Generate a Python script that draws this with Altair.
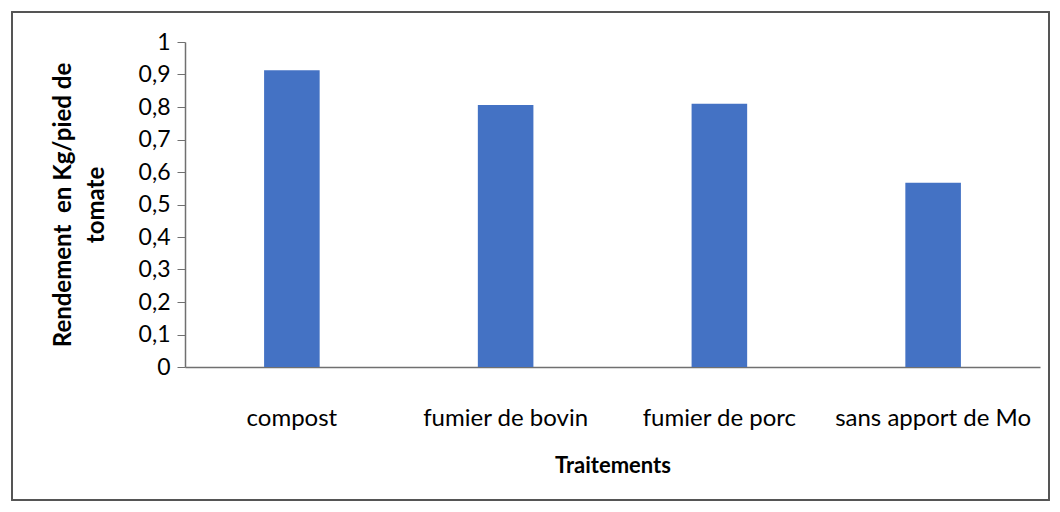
import altair as alt
import pandas as pd

categories = ["compost", "fumier de bovin", "fumier de porc", "sans apport de Mo"]
values = [0.913, 0.806, 0.810, 0.567]

df = pd.DataFrame({"Traitement": categories, "Rendement": values})

FONT = "Lato"

bars = alt.Chart(df).mark_bar(color="#4472C4").encode(
    x=alt.X(
        "Traitement:N",
        sort=categories,
        scale=alt.Scale(paddingInner=0.74, paddingOuter=0.37),
        axis=alt.Axis(
            title="Traitements",
            labelAngle=0,
            labelFont=FONT,
            labelFontSize=24,
            labelColor="#000000",
            labelPadding=39,
            labelLimit=0,
            ticks=False,
            grid=False,
            domainColor="#707070",
            domainWidth=1.5,
            titleFont=FONT,
            titleFontSize=22,
            titleFontWeight="bold",
            titleColor="#000000",
            titlePadding=25,
        ),
    ),
    y=alt.Y(
        "Rendement:Q",
        scale=alt.Scale(domain=[0, 1]),
        axis=alt.Axis(
            title=["Rendement\u00a0\u00a0en Kg/pied de", "tomate"],
            values=[0, 0.1, 0.2, 0.3, 0.4, 0.5, 0.6, 0.7, 0.8, 0.9, 1],
            labelExpr="replace(format(datum.value, '.1~f'), '.', ',')",
            labelFont=FONT,
            labelFontSize=23,
            labelColor="#000000",
            labelPadding=7,
            grid=False,
            tickColor="#707070",
            tickSize=8,
            domainColor="#707070",
            domainWidth=1.5,
            titleFont=FONT,
            titleFontSize=24,
            titleFontWeight="bold",
            titleColor="#000000",
            titlePadding=30,
            titleLineHeight=33,
        ),
    ),
)

border = alt.Chart(df).mark_rect(
    fill="transparent", stroke="#555555", strokeWidth=1.5
).encode(
    x=alt.value(-173), x2=alt.value(864), y=alt.value(-30), y2=alt.value(458)
)

chart = alt.layer(border, bars).properties(
    width=855,
    height=325,
    background="white",
    autosize=alt.AutoSizeParams(type="none"),
    padding={"left": 177, "top": 34, "right": 12, "bottom": 137},
).configure_view(stroke="#ffffff", strokeOpacity=0)

chart.save("out.html", embed_options={"renderer": "svg", "actions": False})
